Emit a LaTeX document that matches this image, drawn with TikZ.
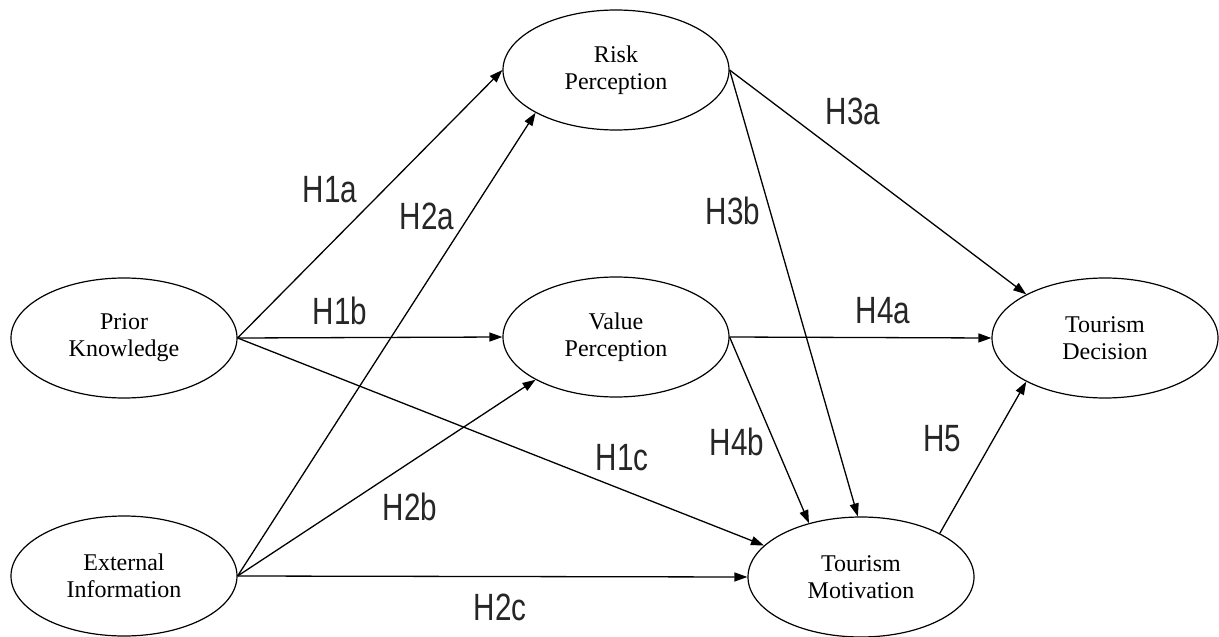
\documentclass[tikz,border=0pt]{standalone}
\usepackage{fontspec}
\setmainfont{Liberation Serif}
\newfontfamily\labfont{Liberation Sans}
\usetikzlibrary{shapes.geometric,arrows.meta}
\tikzset{
  construct/.style={ellipse, draw, line width=1.2pt, minimum width=226pt, minimum height=120pt, inner sep=0pt, align=center, font=\fontsize{24}{27}\selectfont},
  link/.style={line width=1.3pt, -{Triangle[length=13pt,width=9pt]}},
  hyp/.style={font=\labfont\fontsize{38}{40}\selectfont, text=black!85, inner sep=0pt}
}
\newcommand{\hl}[1]{\scalebox{0.78}[1]{#1}}
\begin{document}
\begin{tikzpicture}[x=1pt,y=-1pt]
\useasboundingbox (0,0) rectangle (1219,637);
\node[construct] (PK) at (124,338) {Prior\\Knowledge};
\node[construct] (EI) at (124,576) {External\\Information};
\node[construct] (RP) at (616,70) {Risk\\Perception};
\node[construct] (VP) at (616,337) {Value\\Perception};
\node[construct] (TM) at (861,577) {Tourism\\Motivation};
\node[construct] (TD) at (1105,338) {Tourism\\Decision};

\draw[link] (PK.east) -- (RP.west);
\draw[link] (PK.east) -- (VP.west);
\draw[link] (PK.east) -- (TM.162);
\draw[link] (EI.east) -- (RP.208);
\draw[link] (EI.east) -- (VP.208);
\draw[link] (EI.east) -- (TM.west);
\draw[link] (RP.east) -- (TD.151);
\draw[link] (RP.east) -- (TM.93);
\draw[link] (VP.east) -- (TD.west);
\draw[link] (VP.east) -- (TM.134);
\draw[link] (TM.29) -- (TD.209);

\node[hyp] (h1a) at (330,190) {\hl{H1a}};
\node[hyp] (h2a) at (427,216) {\hl{H2a}};
\node[hyp] (h1b) at (340,311) {\hl{H1b}};
\node[hyp] (h3a) at (853,111) {\hl{H3a}};
\node[hyp] (h3b) at (733,211) {\hl{H3b}};
\node[hyp] (h4a) at (883,311) {\hl{H4a}};
\node[hyp] (h4b) at (737,442) {\hl{H4b}};
\node[hyp] (h5) at (942,439) {\hl{H5}};
\node[hyp] (h1c) at (622,458) {\hl{H1c}};
\node[hyp] (h2b) at (410,507) {\hl{H2b}};
\node[hyp] (h2c) at (500,607) {\hl{H2c}};
\end{tikzpicture}
\end{document}
